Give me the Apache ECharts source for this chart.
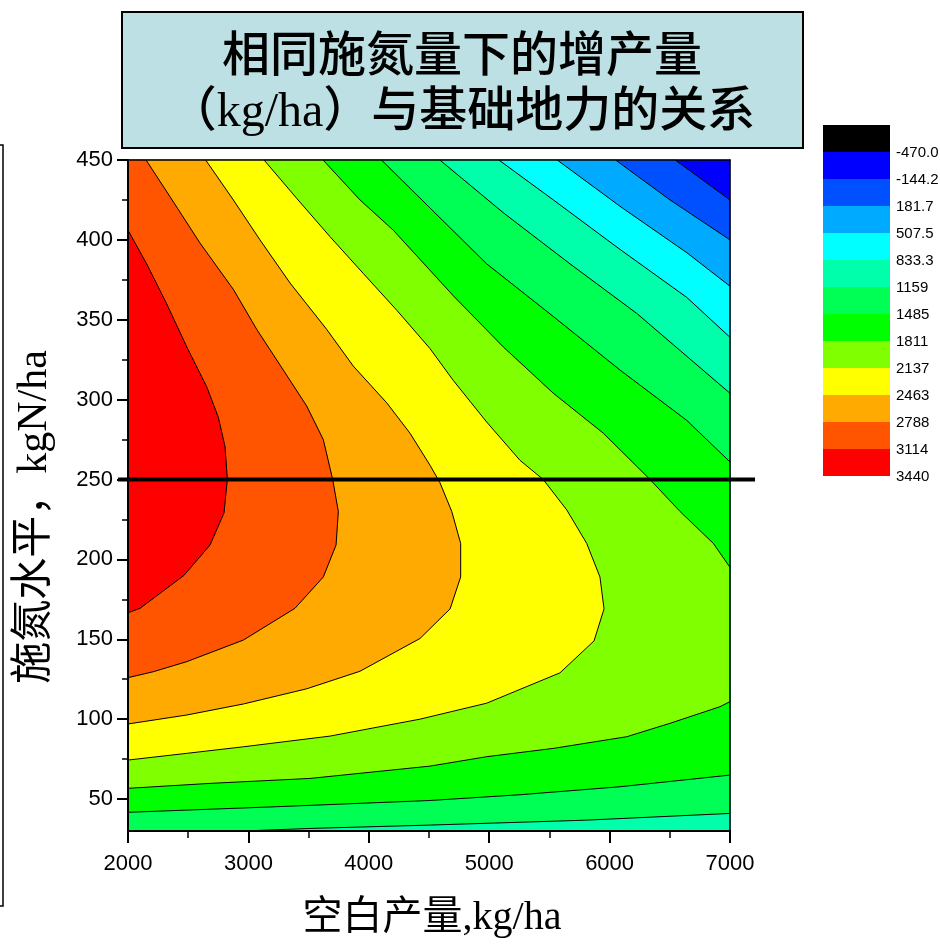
<!DOCTYPE html>
<html>
<head>
<meta charset="utf-8">
<script src="https://cdn.jsdelivr.net/npm/echarts@6/dist/echarts.min.js"></script>
<style>html,body{margin:0;padding:0;background:#fff}#main{width:940px;height:945px}</style>
</head>
<body>
<div id="main"></div>
<script>
// ---------- axis ranges & ticks ----------
const X_MIN = 2000, X_MAX = 7000, X_INTERVAL = 1000;
const Y_MIN = 30, Y_MAX = 450;
const yMajorTicks = [50, 100, 150, 200, 250, 300, 350, 400, 450];
const yMinorTicks = [75, 125, 175, 225, 275, 325, 375, 425];

// ---------- colour scale (legend, top -> bottom) ----------
const levelLabels = ['-470.0','-144.2','181.7','507.5','833.3','1159','1485','1811','2137','2463','2788','3114','3440'];
const bandColors  = ['#000000','#0000ff','#0050ff','#00aaff','#00ffff','#00ffaa','#00ff55','#00ff00','#80ff00','#ffff00','#ffaa00','#ff5500','#ff0000'];

// ---------- contour lines [x (kg/ha), y (kgN/ha)] ----------
const c_m144 = [[6545,450],[7000,425]];
const c_182  = [[6050,450],[6502,425],[7000,400]];
const c_508  = [[5565,450],[6087,421],[6641,392],[7000,371]];
const c_833  = [[5080,450],[5533,425],[6087,394],[6641,364],[7000,339]];
const c_1159_upper = [[4590,450],[5117,417],[5671,385],[6225,354],[7000,304]];
const c_1159_lower = [[2955,30],[3512,31.6],[4508,33.7],[5810,36.8],[7000,41]];
const c_1485_upper = [[4105,450],[4508,420],[4979,385],[5533,352],[6087,318.5],[6641,287],[7000,261]];
const c_1485_lower = [[2000,41.7],[3235,45.2],[4508,49.1],[5256,52.7],[6087,57.7],[7000,65]];
const c_1811_upper = [[3620,450],[3927,425],[4204,406],[4508,381],[4702,365],[5117,333],[5533,304],[5948,279],[6336,250],[6585,230],[6862,210],[7000,195]];
const c_1811_lower = [[2000,56.7],[2681,59.8],[3512,62.9],[4508,70.6],[4979,76.5],[5533,81.7],[6142,89],[6502,97.4],[6917,107.8],[7000,111]];
const c_2137 = [[3130,450],[3401,426],[3678,402],[3954,379],[4232,356],[4508,332],[4702,312],[4979,286],[5256,262],[5449,250],[5644,231],[5810,210],[5920,189],[5954,169],[5871,149],[5588,129],[4979,110],[4425,100],[3678,89.4],[2958,82.7],[2488,78.6],[2000,74.4]];
const c_2463 = [[2645,450],[2875,425],[3096,400],[3346,373],[3650,344],[3871,321],[4149,298],[4342,279],[4508,259],[4591,248],[4689,230],[4763,210],[4763,189],[4675,169],[4425,150.5],[3927,130],[3484,119],[2958,109.5],[2488,102.6],[2000,97]];
const c_2788 = [[2150,450],[2349,427],[2598,398],[2875,369],[3069,344],[3290,318.5],[3484,296],[3622,275],[3700,250],[3747,230],[3728,209],[3622,189],[3387,169.4],[2958,149.5],[2488,136],[2210,129.7],[2000,126]];
const c_3114 = [[2000,406],[2155,385],[2321,360],[2488,333],[2654,308],[2750,289],[2806,270.5],[2825,250],[2797,229],[2681,209],[2465,190],[2100,169.4],[2000,166.6]];

// horizontal reference line (N = 250), running a little past the plot on both sides
const refLineY = 250;
const refLineX = [1917, 7208];

// ---------- build filled regions {value >= level} ----------
const CORNER = { TL: [X_MIN, Y_MAX], TR: [X_MAX, Y_MAX], BR: [X_MAX, Y_MIN], BL: [X_MIN, Y_MIN] };
const regionSpecs = [
  { band: 1,  upper: [],           lower: null,          close: ['TL','TR','BR','BL'] },
  { band: 2,  upper: c_m144,       lower: null,          close: ['BR','BL','TL'] },
  { band: 3,  upper: c_182,        lower: null,          close: ['BR','BL','TL'] },
  { band: 4,  upper: c_508,        lower: null,          close: ['BR','BL','TL'] },
  { band: 5,  upper: c_833,        lower: null,          close: ['BR','BL','TL'] },
  { band: 6,  upper: c_1159_upper, lower: c_1159_lower,  close: ['BL','TL'] },
  { band: 7,  upper: c_1485_upper, lower: c_1485_lower,  close: ['TL'] },
  { band: 8,  upper: c_1811_upper, lower: c_1811_lower,  close: ['TL'] },
  { band: 9,  upper: c_2137,       lower: null,          close: ['TL'] },
  { band: 10, upper: c_2463,       lower: null,          close: ['TL'] },
  { band: 11, upper: c_2788,       lower: null,          close: ['TL'] },
  { band: 12, upper: c_3114,       lower: null,          close: [] }
];
const regions = regionSpecs.map(s => ({
  color: bandColors[s.band],
  pts: s.upper.concat(s.lower ? s.lower.slice().reverse() : [], s.close.map(k => CORNER[k]))
}));
const contourLines = [c_m144, c_182, c_508, c_833, c_1159_upper, c_1159_lower, c_1485_upper, c_1485_lower,
                      c_1811_upper, c_1811_lower, c_2137, c_2463, c_2788, c_3114];

const chart = echarts.init(document.getElementById('main'), null, { renderer: 'canvas' });

const serifCJK = '"Liberation Serif","Noto Sans CJK SC",serif';
const graphics = [];
// title box
graphics.push({ type: 'rect', shape: { x: 122, y: 12, width: 681, height: 136 },
  style: { fill: '#bce0e3', stroke: '#000', lineWidth: 2 }, z: 10 });
graphics.push({ type: 'text', x: 462, y: 58, z: 11,
  style: { text: '相同施氮量下的增产量', fill: '#000', font: '500 48px ' + serifCJK, textAlign: 'center', textVerticalAlign: 'middle' } });
graphics.push({ type: 'text', x: 462, y: 113, z: 11,
  style: { text: '（kg/ha）与基础地力的关系', fill: '#000', font: '500 48px ' + serifCJK, textAlign: 'center', textVerticalAlign: 'middle' } });
// legend
const swX = 823, swY = 125, swW = 67, swH = 27;
bandColors.forEach((c, i) => {
  graphics.push({ type: 'rect', shape: { x: swX, y: swY + i * swH, width: swW, height: swH }, style: { fill: c }, z: 10 });
  graphics.push({ type: 'text', x: swX + swW + 6, y: swY + (i + 1) * swH + 1, z: 10,
    style: { text: levelLabels[i], fill: '#000', font: '15px "Liberation Sans", Arial, sans-serif', textAlign: 'left', textVerticalAlign: 'middle' } });
});
// axis names
graphics.push({ type: 'text', x: 35, y: 517, rotation: Math.PI / 2, z: 10,
  style: { text: '施氮水平，kgN/ha', fill: '#000', font: '42px ' + serifCJK, textAlign: 'center', textVerticalAlign: 'middle' } });
graphics.push({ type: 'text', x: 432, y: 918, z: 10,
  style: { text: '空白产量,kg/ha', fill: '#000', font: '40px ' + serifCJK, textAlign: 'center', textVerticalAlign: 'middle' } });
// left bracket
graphics.push({ type: 'polyline', shape: { points: [[0,145],[3,145],[3,906],[0,906]] },
  style: { stroke: '#000', lineWidth: 1.5, fill: null }, z: 10 });

const series = [];
series.push({
  type: 'custom', coordinateSystem: 'cartesian2d', z: 1, silent: true, animation: false,
  data: regions.map(() => [X_MIN, Y_MIN]),
  renderItem: function (params, api) {
    const r = regions[params.dataIndex];
    return { type: 'polygon', shape: { points: r.pts.map(p => api.coord(p)) },
      style: { fill: r.color, stroke: r.color, lineWidth: 0.5 } };
  }
});
contourLines.forEach(line => series.push({
  type: 'line', data: line, showSymbol: false, symbol: 'none', silent: true, animation: false, z: 3,
  lineStyle: { color: '#000', width: 1 }
}));
// reference line drawn through the axes, allowed to run past the plot edges
series.push({
  type: 'custom', coordinateSystem: 'cartesian2d', z: 6, silent: true, animation: false, clip: false,
  data: [[refLineX[0], refLineY, refLineX[1]]],
  renderItem: function (params, api) {
    const p0 = api.coord([api.value(0), api.value(1)]);
    const p1 = api.coord([api.value(2), api.value(1)]);
    return { type: 'line', shape: { x1: p0[0], y1: p0[1], x2: p1[0], y2: p1[1] },
      style: { stroke: '#000', lineWidth: 4 } };
  }
});

const axisFont = { fontSize: 22, color: '#000', fontFamily: '"Liberation Sans", Arial, sans-serif' };
chart.setOption({
  backgroundColor: '#fff',
  animation: false,
  grid: { left: 128, top: 160, right: 210, bottom: 114, containLabel: false },
  xAxis: [
    { type: 'value', min: X_MIN, max: X_MAX, interval: X_INTERVAL, position: 'bottom', z: 5,
      axisLine: { show: true, onZero: false, lineStyle: { color: '#000', width: 2 } },
      axisTick: { show: true, length: 12, lineStyle: { color: '#000', width: 2 } },
      minorTick: { show: true, splitNumber: 2, length: 7, lineStyle: { color: '#000', width: 1.5 } },
      splitLine: { show: false }, minorSplitLine: { show: false },
      axisLabel: Object.assign({ margin: 22, formatter: v => String(v) }, axisFont) },
    { type: 'value', min: X_MIN, max: X_MAX, position: 'top', z: 5,
      axisLine: { show: true, onZero: false, lineStyle: { color: '#000', width: 1.5 } },
      axisTick: { show: false }, axisLabel: { show: false }, splitLine: { show: false } }
  ],
  yAxis: [
    { type: 'value', min: Y_MIN, max: Y_MAX, position: 'left', z: 5,
      axisLine: { show: true, onZero: false, lineStyle: { color: '#000', width: 2 } },
      axisTick: { show: true, length: 11, customValues: yMajorTicks, lineStyle: { color: '#000', width: 2 } },
      axisLabel: Object.assign({ margin: 15, customValues: yMajorTicks, formatter: v => String(v) }, axisFont),
      splitLine: { show: false } },
    { type: 'value', min: Y_MIN, max: Y_MAX, position: 'left', z: 5,
      axisLine: { show: false },
      axisTick: { show: true, length: 6, customValues: yMinorTicks, lineStyle: { color: '#000', width: 1.5 } },
      axisLabel: { show: false }, splitLine: { show: false } },
    { type: 'value', min: Y_MIN, max: Y_MAX, position: 'right', z: 5,
      axisLine: { show: true, onZero: false, lineStyle: { color: '#000', width: 1.5 } },
      axisTick: { show: false }, axisLabel: { show: false }, splitLine: { show: false } }
  ],
  series: series,
  graphic: { elements: graphics }
});
</script>
</body>
</html>
